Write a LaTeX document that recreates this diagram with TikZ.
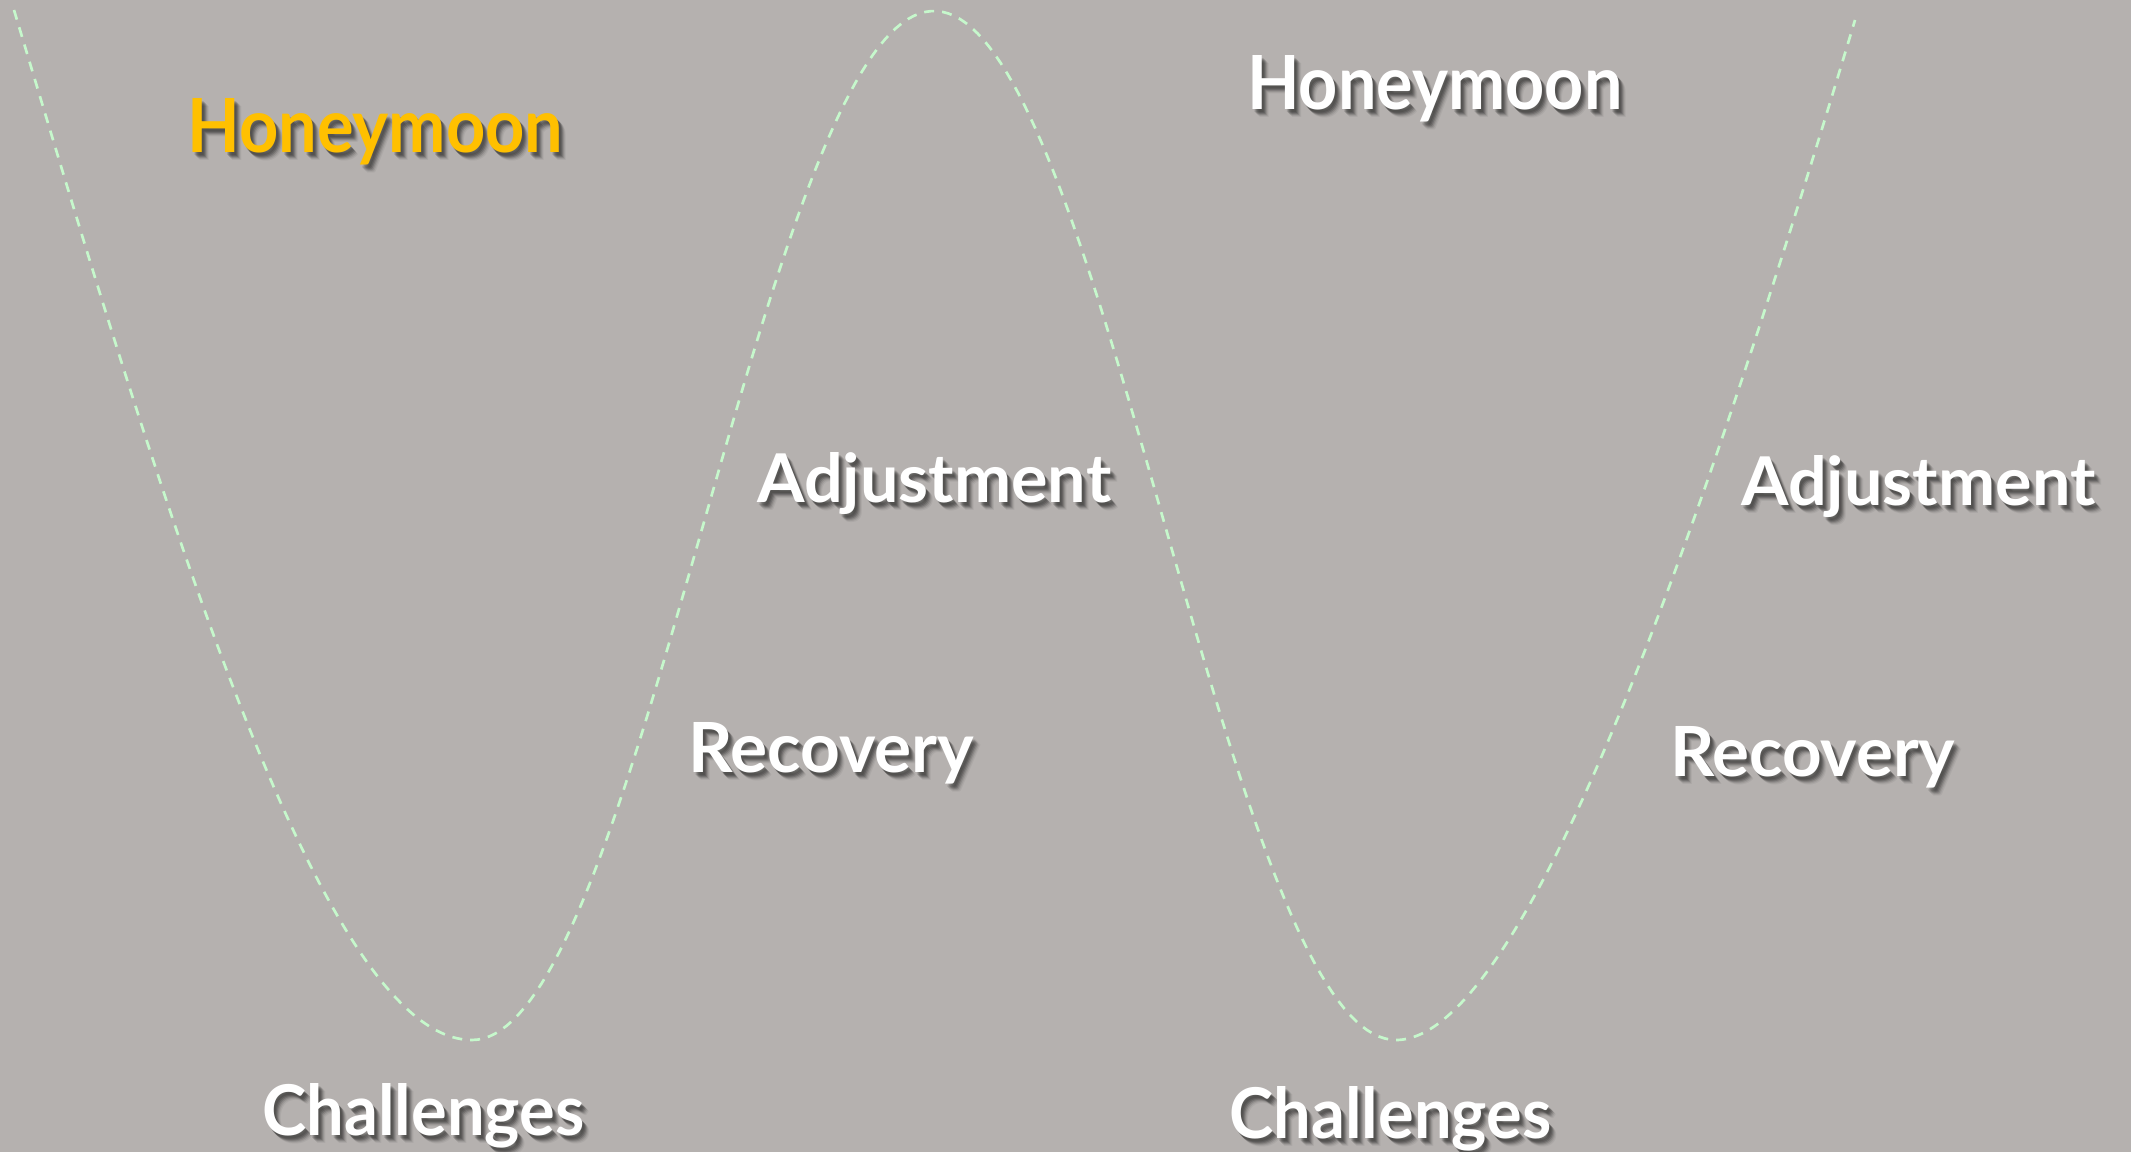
\documentclass[tikz,border=0pt]{standalone}
\usepackage{fontspec}
\setmainfont{Lato}
\usepackage{graphicx}
\definecolor{bg}{RGB}{181,177,175}
\definecolor{wave}{RGB}{198,248,204}
\definecolor{honey}{RGB}{255,192,0}
\newdimen\pxu \pxu=0.75pt
\tikzset{
  lbl/.style={anchor=base west, inner sep=0pt, font=\bfseries},
  wavecurve/.style={draw=wave, line width=2pt, dash pattern=on 7.5pt off 6pt}
}
\newcommand\mylabel[7]{%
  \foreach \dx/\dy/\op in {2/3/0.12,3/4/0.16,4/5/0.16,5/6/0.12,6/7/0.08,7/8/0.05}{%
    \node[lbl, text=black, opacity=\op] at (#2+\dx,#3+\dy) {\resizebox{#4\pxu}{#5\pxu}{#7}};
  }%
  \node[lbl, text=#6] (#1) at (#2,#3) {\resizebox{#4\pxu}{#5\pxu}{#7}};
}
\begin{document}
\begin{tikzpicture}[x=0.75pt, y=-0.75pt]
\useasboundingbox (0,0) rectangle (2131,1152);
\fill[bg] (0,0) rectangle (2131,1152);
\coordinate (w0) at (14,10);
\coordinate (w1) at (472,1040);
\coordinate (w2) at (1396,1040);
\coordinate (w3) at (1855,20);
\draw[wavecurve] (w0) .. controls (164,510) and (322,1040) .. (w1)
  -- plot[domain=472:1396, samples=160] (\x, {525.5+514.5*cos((\x-472)/462*180)})
  .. controls (1526,1040) and (1705,520) .. (w3);
\mylabel{honeyA}{187}{153}{376}{54}{honey}{Honeymoon}
\mylabel{honeyB}{1247}{110}{375}{54}{white}{Honeymoon}
\mylabel{adjA}{757}{502}{354}{50}{white}{Adjustment}
\mylabel{adjB}{1741}{505}{354}{50}{white}{Adjustment}
\mylabel{recA}{688}{772}{286}{50}{white}{Recovery}
\mylabel{recB}{1670}{776}{285}{50}{white}{Recovery}
\mylabel{chalA}{262}{1135}{322}{52}{white}{Challenges}
\mylabel{chalB}{1229}{1138}{322}{52}{white}{Challenges}
\end{tikzpicture}
\end{document}
